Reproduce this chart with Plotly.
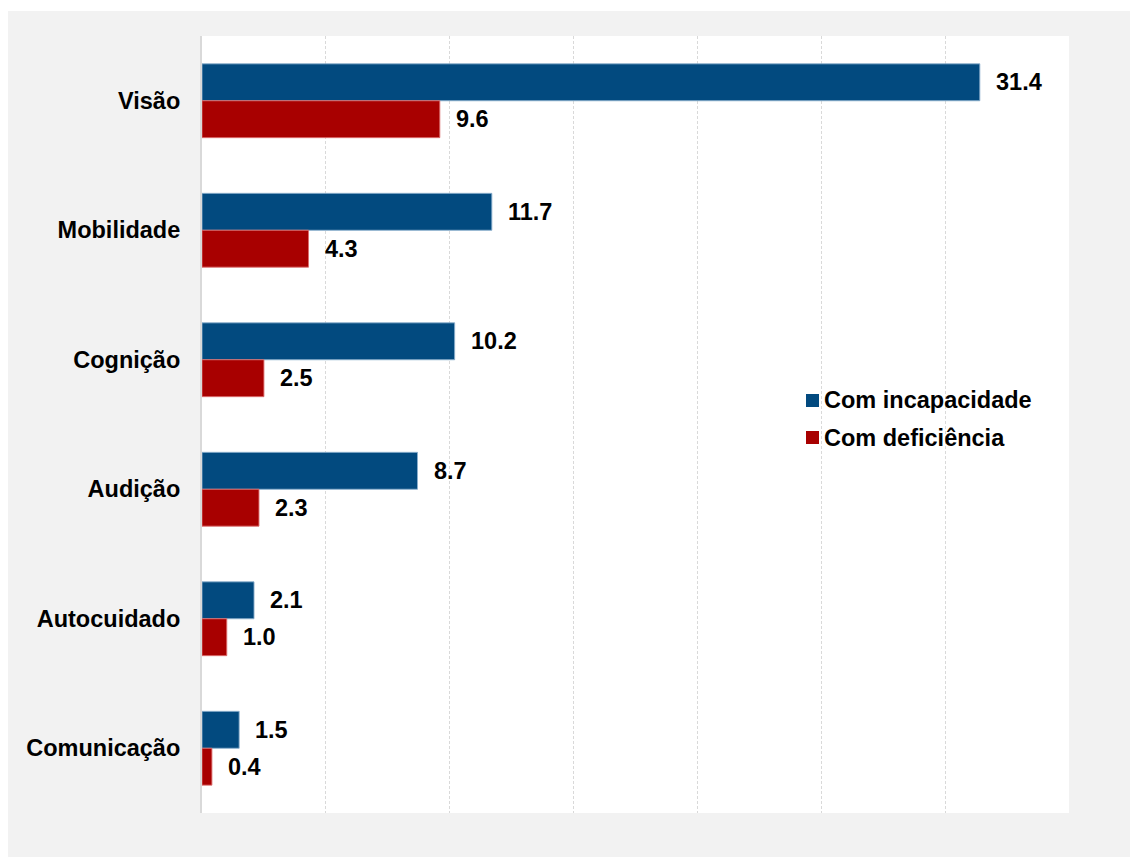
import plotly.graph_objects as go

# Domínios de funcionalidade e percentagens por tipo de condição
categorias = ["Visão", "Mobilidade", "Cognição", "Audição", "Autocuidado", "Comunicação"]
com_incapacidade = [31.4, 11.7, 10.2, 8.7, 2.1, 1.5]
com_deficiencia = [9.6, 4.3, 2.5, 2.3, 1.0, 0.4]

W, H = 1130, 857
ML, MR, MT, MB = 202, 61, 36, 44
PW, PH = W - ML - MR, H - MT - MB

AZUL = "#024a7f"
VERMELHO = "#a80000"
FONTE = "Liberation Sans, Arial, sans-serif"
TAM = 23.5


def px_x(p):
    return (p - ML) / PW


def px_y(p):
    return (H - MB - p) / PH


fig = go.Figure()

series = [
    ("Com incapacidade", com_incapacidade, AZUL, "rgba(140,175,205,0.9)", 18.5),
    ("Com deficiência", com_deficiencia, VERMELHO, "rgba(220,110,110,0.9)", -18.5),
]

for i, (nome, valores, cor, borda, desloc) in enumerate(series):
    fig.add_trace(go.Bar(
        y=categorias, x=valores, name=nome, orientation="h",
        marker=dict(color=cor, line=dict(color=borda, width=1)),
        showlegend=False,
    ))
    # rótulos de valor à direita de cada barra
    for cat, v in zip(categorias, valores):
        fig.add_annotation(
            x=v, y=cat, text=f"<b>{v:.1f}</b>", showarrow=False,
            xanchor="left", yanchor="middle", xshift=14, yshift=desloc,
            font=dict(family=FONTE, size=TAM, color="#000000"),
        )

    # legenda: quadrado colorido + nome da série
    yc = 400.5 + 37 * i
    fig.add_shape(type="rect", xref="paper", yref="paper",
                  x0=px_x(806), x1=px_x(819), y0=px_y(yc + 6.5), y1=px_y(yc - 6.5),
                  fillcolor=cor, line=dict(width=0), layer="above")
    fig.add_annotation(
        xref="paper", yref="paper", x=px_x(822), y=px_y(yc),
        text=f"<b>{nome}</b>", showarrow=False,
        xanchor="left", yanchor="middle",
        font=dict(family=FONTE, size=TAM, color="#000000"),
    )

# fundo cinzento com margem branca no topo e à esquerda
fig.add_shape(type="rect", xref="paper", yref="paper",
              x0=px_x(0), x1=px_x(W + 5), y0=px_y(0), y1=px_y(11),
              fillcolor="white", line=dict(width=0), layer="above")
fig.add_shape(type="rect", xref="paper", yref="paper",
              x0=px_x(0), x1=px_x(8), y0=px_y(H + 5), y1=px_y(0),
              fillcolor="white", line=dict(width=0), layer="above")

fig.update_layout(
    width=W, height=H,
    margin=dict(l=ML, r=MR, t=MT, b=MB, pad=0),
    paper_bgcolor="#f2f2f2",
    plot_bgcolor="#ffffff",
    barmode="group",
    bargap=0.43,
    bargroupgap=0,
    font=dict(family=FONTE, size=TAM, color="#000000"),
    showlegend=False,
    xaxis=dict(
        range=[0, 35], dtick=5, showticklabels=False,
        showgrid=True, gridcolor="#d9d9d9", griddash="3px,2px", gridwidth=1,
        zeroline=False, showline=False, fixedrange=True,
    ),
    yaxis=dict(
        autorange="reversed", showgrid=False, zeroline=False,
        showline=True, linecolor="#d9d9d9", linewidth=2,
        ticks="", ticklabelstandoff=15,
        tickfont=dict(family=FONTE, size=TAM, color="#000000", weight="bold"),
    ),
)

fig.write_html("out.html")
